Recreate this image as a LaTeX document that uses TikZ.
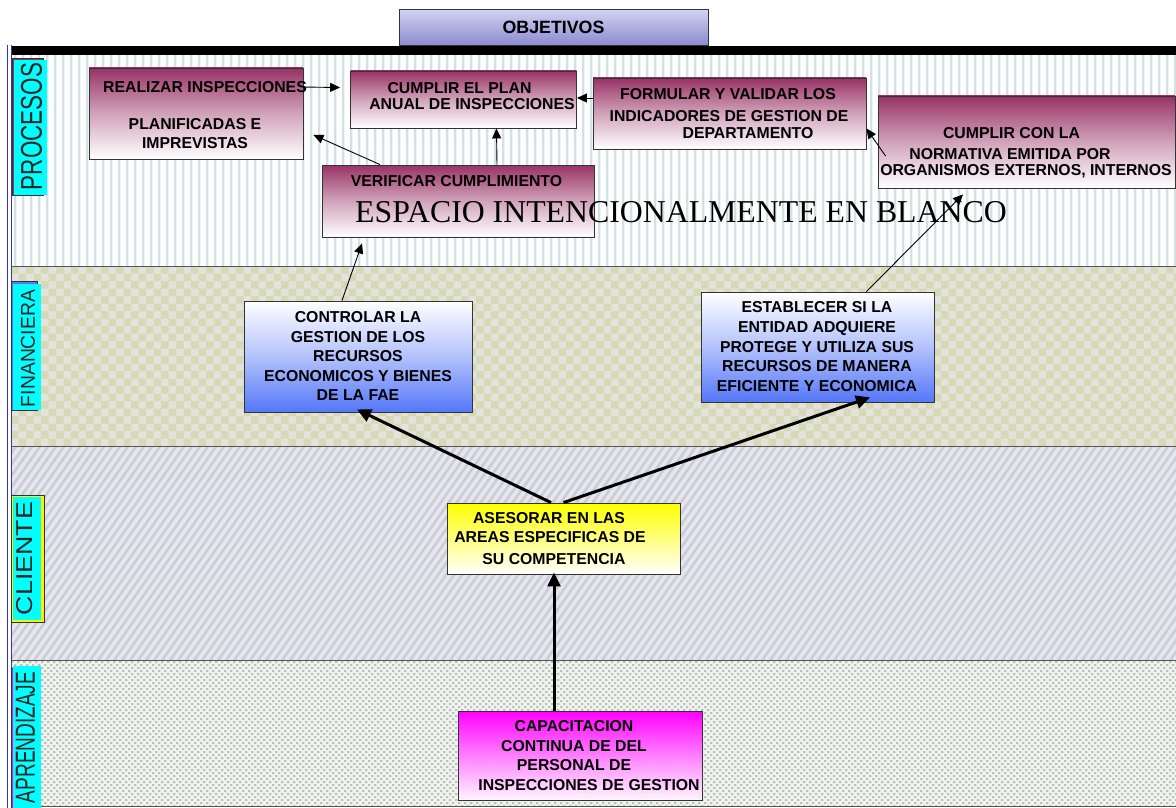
\documentclass[tikz,border=0pt]{standalone}
\usepackage{fontspec}
\setmainfont{Liberation Sans}
\newfontfamily\tnrfont{Liberation Serif}
\usetikzlibrary{arrows.meta}
\definecolor{plumc}{HTML}{993366}
\definecolor{bluec}{HTML}{5577F8}
\definecolor{magc}{HTML}{FF00FF}
\definecolor{cyanc}{HTML}{00FFFF}
\definecolor{stripev}{HTML}{D3E0E4}
\definecolor{chkA}{HTML}{E3E3DC}
\definecolor{chkB}{HTML}{D5D9B6}
\definecolor{diagA}{HTML}{E6E6EC}
\definecolor{diagB}{HTML}{CBCBDA}
\definecolor{dotA}{HTML}{F2F3F0}
\definecolor{dotB}{HTML}{B5C6B8}
\definecolor{laneline}{HTML}{555555}
\definecolor{leftblue}{HTML}{3333BB}
\definecolor{objtop}{HTML}{D2D2F2}
\definecolor{objbot}{HTML}{8A8AD0}
\begin{document}
\begin{tikzpicture}[x=1pt,y=-1pt,
  bx/.style={draw=black!80, line width=0.9pt, inner sep=0pt, rectangle},
  plumbox/.style={bx, top color=plumc, bottom color=white, middle color=plumc!45!white},
  bluebox/.style={bx, top color=white, bottom color=bluec, middle color=bluec!45!white},
  yelbox/.style={bx, top color=yellow, bottom color=white, middle color=yellow!50!white},
  magbox/.style={bx, top color=magc, bottom color=magc!4!white, middle color=magc!50!white},
  btext/.style={anchor=base, yshift=-5.6pt, inner sep=0pt, font=\fontsize{15.8}{19}\bfseries\selectfont},
  tabtext/.style={inner sep=0pt, rotate=90, text=black!85},
  thinarr/.style={draw=black, line width=0.9pt, -{Triangle[length=10pt,width=9pt]}},
  thickarr/.style={draw=black, line width=3pt, -{Triangle[length=14pt,width=13pt]}}
]
\useasboundingbox (0,0) rectangle (1176,808);
\fill[white] (0,0) rectangle (1176,808);

% lane: procesos (vertical stripes)
\fill[white] (11,55) rectangle (1176,266);
\fill[stripev] \foreach \xx in {0,...,145} {(14+8*\xx,55) rectangle ++(2.4,211)};
% lane: financiera (checkerboard)
\fill[chkA] (11,266) rectangle (1176,446.5);
\begin{scope}
\clip (11,266) rectangle (1176,446.5);
\foreach \j in {0,...,24} {
  \pgfmathsetmacro\off{mod(\j,2)*7.5}
  \fill[chkB] \foreach \i in {0,...,78} {(11+\off+15*\i,266+7.5*\j) rectangle ++(7.5,7.5)};
}
\end{scope}
% lane: cliente (diagonal stripes)
\fill[diagA] (11,446.5) rectangle (1176,660.5);
\begin{scope}
\clip (11,446.5) rectangle (1176,660.5);
\draw[diagB, line width=2.6pt] \foreach \k in {0,...,168} {(-150+8*\k,660.5) -- ++(150,-214)};
\end{scope}
% lane: aprendizaje (dots)
\fill[dotA] (11,660.5) rectangle (1176,806);
\begin{scope}
\clip (11,660.5) rectangle (1176,806);
\foreach \j in {0,...,48} {
  \pgfmathsetmacro\off{mod(\j,2)*3}
  \fill[dotB] \foreach \i in {0,...,194} {(11+\off+6*\i,661+3*\j) rectangle ++(2.4,2.2)};
}
\end{scope}
\foreach \yy in {266,446.5,660.5,806} \draw[laneline, line width=1pt] (11,\yy) -- (1176,\yy);

% top bar and left border
\fill[black] (11,46.5) rectangle (1176,55);
\draw[leftblue, line width=0.8pt] (7.7,45) -- (7.7,808);
\draw[leftblue, line width=0.8pt] (11,45) -- (11,808);

% objetivos
\node[bx, top color=objtop, bottom color=objbot, minimum width=309pt, minimum height=36pt,
      font=\fontsize{17.8}{20}\bfseries\selectfont] (obj) at (553.5,27.5) {OBJETIVOS};

% lane tabs
\fill[plumc, draw=black!80, line width=0.6pt] (12,58) rectangle (43,195);
\fill[cyanc] (14,60) rectangle (46.5,195);
\node[tabtext] (lpro) at (31.5,126.5) {\resizebox{127pt}{21pt}{PROCESOS}};
\fill[bluec, draw=black!80, line width=0.6pt] (11,281) rectangle (37,410);
\fill[cyanc] (13,284) rectangle (41,410);
\node[tabtext] (lfin) at (28,348.5) {\resizebox{117pt}{14pt}{FINANCIERA}};
\fill[yellow, draw=black!80, line width=0.6pt] (11,495) rectangle (44,622);
\fill[cyanc] (12.5,497) rectangle (41,620);
\node[tabtext] (lcli) at (25,558.5) {\resizebox{113pt}{16pt}{CLIENTE}};
\fill[magc, draw=black!80, line width=0.6pt] (11,668) rectangle (38,808);
\fill[cyanc] (13,666) rectangle (41,808);
\node[tabtext] (lapr) at (25.5,737.5) {\resizebox{131pt}{19pt}{APRENDIZAJE}};

% boxes
\node[plumbox, minimum width=214pt, minimum height=91pt] (realizar) at (196,113.5) {};
\node[plumbox, minimum width=226pt, minimum height=57pt] (cumplirplan) at (463.5,99.5) {};
\node[plumbox, minimum width=273pt, minimum height=71pt] (formular) at (729.5,113.5) {};
\node[plumbox, minimum width=297pt, minimum height=92pt] (cumplircon) at (1026.5,142) {};
\node[plumbox, minimum width=272pt, minimum height=72pt] (verificar) at (458,201) {};
\node[bluebox, minimum width=228pt, minimum height=111pt] (controlar) at (358,356.5) {};
\node[bluebox, minimum width=233pt, minimum height=110pt] (establecer) at (817.5,347) {};
\node[yelbox, minimum width=233pt, minimum height=71pt] (asesorar) at (563.5,538.5) {};
\node[magbox, minimum width=244pt, minimum height=89pt] (capacitacion) at (580,755.5) {};

% texts
\node[btext] (tre1) at (205,87) {REALIZAR INSPECCIONES};
\node[btext] (tre2) at (195,124) {PLANIFICADAS E};
\node[btext] (tre3) at (195,142.5) {IMPREVISTAS};
\node[btext] (tcp1) at (459.5,87.5) {CUMPLIR EL PLAN};
\node[btext] (tcp2) at (472,104) {ANUAL DE INSPECCIONES};
\node[btext] (tfo1) at (728,94) {FORMULAR Y VALIDAR LOS};
\node[btext] (tfo2) at (729,116) {INDICADORES DE GESTION DE};
\node[btext] (tfo3) at (748,133) {DEPARTAMENTO};
\node[btext] (tcc1) at (1011.5,132.5) {CUMPLIR CON LA};
\node[btext] (tcc2) at (1010,153.5) {NORMATIVA EMITIDA POR};
\node[btext] (tcc3) at (1026,169.5) {ORGANISMOS EXTERNOS, INTERNOS};
\node[btext] (tve1) at (456.5,181) {VERIFICAR CUMPLIMIENTO};
\node[anchor=base west, inner sep=0pt, font=\tnrfont\fontsize{31.8}{36}\selectfont] (tesp) at (355,222) {ESPACIO INTENCIONALMENTE EN BLANCO};
\node[btext] (tco1) at (358,317) {CONTROLAR LA};
\node[btext] (tco2) at (358,337) {GESTION DE LOS};
\node[btext] (tco3) at (358,356) {RECURSOS};
\node[btext] (tco4) at (358,376) {ECONOMICOS Y BIENES};
\node[btext] (tco5) at (358,395) {DE LA FAE};
\node[btext] (tes1) at (817,307) {ESTABLECER SI LA};
\node[btext] (tes2) at (817,327) {ENTIDAD ADQUIERE};
\node[btext] (tes3) at (817,347) {PROTEGE Y UTILIZA SUS};
\node[btext] (tes4) at (817,366) {RECURSOS DE MANERA};
\node[btext] (tes5) at (817,386) {EFICIENTE Y ECONOMICA};
\node[btext] (tas1) at (549,518) {ASESORAR EN LAS};
\node[btext] (tas2) at (550,537) {AREAS ESPECIFICAS DE};
\node[btext] (tas3) at (554,559) {SU COMPETENCIA};
\node[btext] (tca1) at (574,726) {CAPACITACION};
\node[btext] (tca2) at (574,746) {CONTINUA DE DEL};
\node[btext] (tca3) at (574,765) {PERSONAL DE};
\node[btext] (tca4) at (589,785) {INSPECCIONES DE GESTION};

% connectors
\draw[thinarr] ([yshift=-19.5pt]realizar.north east) -- ([xshift=-10pt,yshift=12pt]cumplirplan.west);
\draw[thinarr] ([yshift=15.5pt]formular.west) -- ([yshift=1.5pt]cumplirplan.east);
\draw[thinarr] ([xshift=8pt,yshift=-14pt]cumplircon.west) -- ([yshift=-15pt]formular.east);
\draw[thinarr] ([xshift=-78pt]verificar.north) -- ([xshift=10pt,yshift=-21.5pt]realizar.east);
\draw[thinarr] ([xshift=39pt]verificar.north) -- ([xshift=33pt]cumplirplan.south);
\draw[thinarr] ([xshift=-16pt]controlar.north) -- ([xshift=-96pt,yshift=-6pt]verificar.south);
\draw[thinarr] ([xshift=49pt]establecer.north) -- ([xshift=-63.5pt,yshift=-6pt]cumplircon.south);
\draw[thickarr] ([xshift=-12.5pt]asesorar.north) -- ([xshift=-1pt,yshift=3pt]controlar.south);
\draw[thickarr] (asesorar.north) -- ([xshift=52.5pt,yshift=5pt]establecer.south);
\draw[thickarr] ([xshift=-26pt]capacitacion.north) -- ([xshift=-9.5pt,yshift=2pt]asesorar.south);
\end{tikzpicture}
\end{document}
